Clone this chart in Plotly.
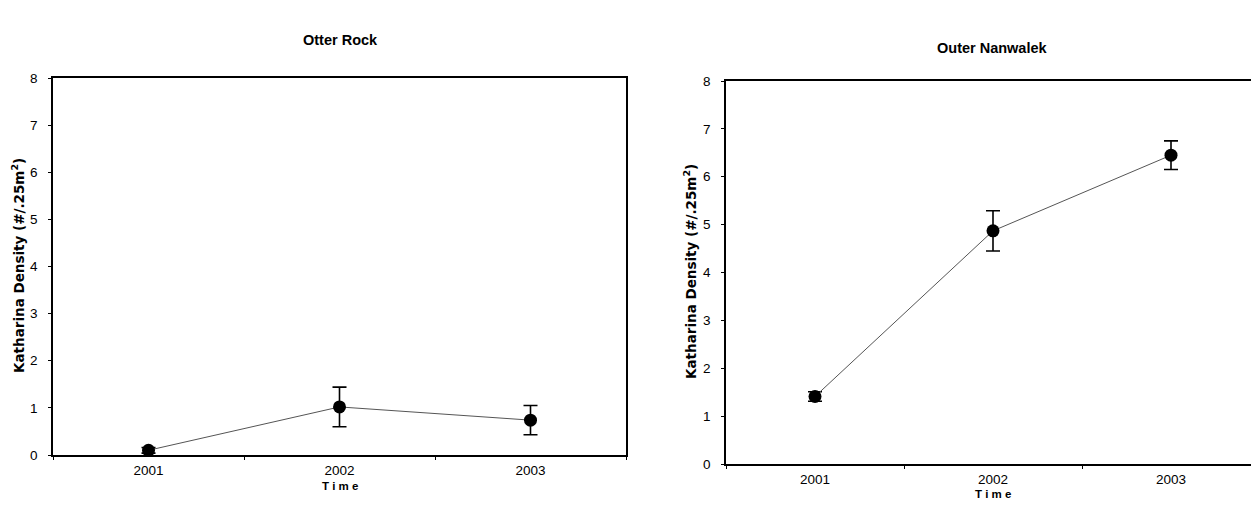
import plotly.graph_objects as go

# Katharina density by year at two sites (mean with error)
years = ["2001", "2002", "2003"]
otter_rock_mean = [0.10, 1.02, 0.74]
otter_rock_err = [0.06, 0.42, 0.31]
nanwalek_mean = [1.41, 4.87, 6.45]
nanwalek_err = [0.10, 0.42, 0.30]
y_ticks = [0, 1, 2, 3, 4, 5, 6, 7, 8]

W, H = 1251, 514
FONT = "Liberation Sans, Arial, sans-serif"
WIDE_FONT = "DejaVu Sans, Verdana, sans-serif"


def px_x(x):
    return x / W


def px_y(y):
    return 1 - y / H


fig = go.Figure()


def add_series(means, errs, xaxis, yaxis):
    fig.add_trace(go.Scatter(
        x=years, y=means, xaxis=xaxis, yaxis=yaxis,
        mode="lines+markers",
        line=dict(color="#555555", width=1),
        marker=dict(color="black", size=13),
        error_y=dict(type="data", array=errs, visible=True,
                     color="black", thickness=1.6, width=7),
        showlegend=False, cliponaxis=False,
    ))


add_series(otter_rock_mean, otter_rock_err, "x", "y")
add_series(nanwalek_mean, nanwalek_err, "x2", "y2")

xaxis_common = dict(
    type="category", showline=True, linecolor="black", linewidth=1.5,
    ticks="outside", ticklen=3, tickcolor="black", tickson="boundaries",
    ticklabelstandoff=2, automargin=False,
    showgrid=False, zeroline=False, fixedrange=True,
    tickfont=dict(family=FONT, size=13.5, color="black"),
)
yaxis_common = dict(
    showline=True, linecolor="black", linewidth=1.5,
    ticks="outside", ticklen=3, tickcolor="black", ticklabelstandoff=8,
    automargin=False,
    tickvals=y_ticks, range=[0, 8],
    showgrid=False, zeroline=False, fixedrange=True,
    tickfont=dict(family=FONT, size=13.5, color="black"),
)

fig.update_layout(
    width=W, height=H,
    margin=dict(l=0, r=0, t=0, b=0, pad=0),
    paper_bgcolor="white", plot_bgcolor="white",
    xaxis=dict(xaxis_common, domain=[px_x(53), px_x(626)], range=[-0.5, 2.5],
               mirror=True, anchor="y"),
    yaxis=dict(yaxis_common, domain=[px_y(455), px_y(78)], mirror=True,
               anchor="x"),
    xaxis2=dict(xaxis_common, domain=[px_x(726), 1.0],
                range=[-0.5, 2.5 - 9 / 178], mirror=True, anchor="y2"),
    yaxis2=dict(yaxis_common, domain=[px_y(464), px_y(81)], mirror=False,
                anchor="x2"),
)

annotations = [
    dict(text="<b>Otter Rock</b>", x=px_x(340), y=px_y(40),
         font=dict(size=14.5)),
    dict(text="<b>Outer Nanwalek</b>", x=px_x(993), y=px_y(48),
         font=dict(size=14.5)),
    dict(text="<b>T i m e</b>", x=px_x(340), y=px_y(486),
         font=dict(size=11.5)),
    dict(text="<b>T i m e</b>", x=px_x(993), y=px_y(494),
         font=dict(size=11.5)),
    dict(text="<b>Katharina Density (#/.25m<sup>2</sup>)</b>",
         x=px_x(18), y=px_y(266), textangle=-90,
         font=dict(size=13.5, family=WIDE_FONT)),
    dict(text="<b>Katharina Density (#/.25m<sup>2</sup>)</b>",
         x=px_x(690), y=px_y(272), textangle=-90,
         font=dict(size=13.5, family=WIDE_FONT)),
]
for a in annotations:
    a.update(xref="paper", yref="paper", showarrow=False,
             xanchor="center", yanchor="middle")
    a["font"].setdefault("family", FONT)
    a["font"].update(color="black")
fig.update_layout(annotations=annotations)

fig.write_html("out.html")
